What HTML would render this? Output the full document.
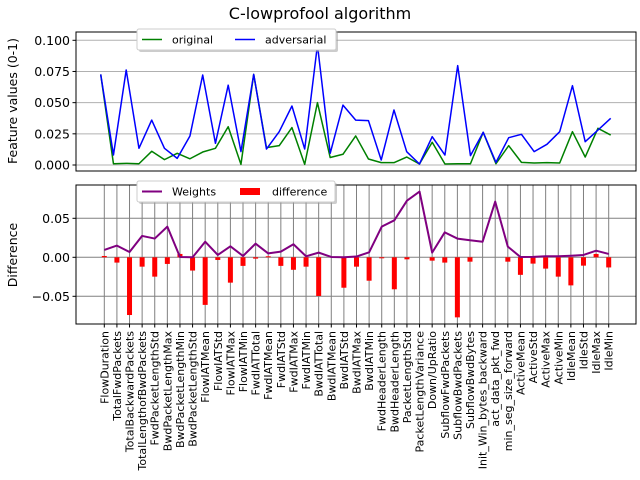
<!DOCTYPE html>
<html><head><meta charset="utf-8"><style>
body{margin:0;background:#fff;}
svg{display:block;font-family:"DejaVu Sans","Liberation Sans",sans-serif;}
</style></head><body>
<svg id="chart" width="640" height="480" viewBox="0 0 640 480">
<text x="320" y="19" text-anchor="middle" font-size="16">C-lowprofool algorithm</text>
<g id="topPanel"></g>
<g id="botPanel"></g>
</svg>
<script>
const categories = ["FlowDuration","TotalFwdPackets","TotalBackwardPackets","TotalLengthofBwdPackets","FwdPacketLengthStd","BwdPacketLengthMax","BwdPacketLengthMin","BwdPacketLengthStd","FlowIATMean","FlowIATStd","FlowIATMax","FlowIATMin","FwdIATTotal","FwdIATMean","FwdIATStd","FwdIATMax","FwdIATMin","BwdIATTotal","BwdIATMean","BwdIATStd","BwdIATMax","BwdIATMin","FwdHeaderLength","BwdHeaderLength","PacketLengthStd","PacketLengthVariance","Down/UpRatio","SubflowFwdPackets","SubflowBwdPackets","SubflowBwdBytes","Init_Win_bytes_backward","act_data_pkt_fwd","min_seg_size_forward","ActiveMean","ActiveStd","ActiveMax","ActiveMin","IdleMean","IdleStd","IdleMax","IdleMin"];
const original = [0.0727,0.001,0.0013,0.001,0.011,0.0043,0.0094,0.005,0.0104,0.0134,0.0307,0.0005,0.0727,0.0139,0.0155,0.030,0.0005,0.050,0.006,0.0086,0.0233,0.0048,0.0019,0.0019,0.0064,0.0008,0.0182,0.0008,0.001,0.001,0.0262,0.001,0.0155,0.0021,0.0016,0.0019,0.0016,0.0267,0.0064,0.0294,0.024];
const adversarial = [0.0727,0.008,0.0762,0.0134,0.036,0.0134,0.0053,0.0233,0.0722,0.0174,0.064,0.0107,0.0727,0.0128,0.0267,0.0473,0.0128,0.0963,0.0094,0.048,0.036,0.0356,0.004,0.0441,0.0107,0.0008,0.0227,0.008,0.0797,0.0075,0.0262,0.0021,0.0219,0.0246,0.0107,0.0166,0.0267,0.0636,0.0187,0.028,0.0374];
const weights = [0.0094,0.015,0.0068,0.0274,0.024,0.0393,0.0004,0,0.020,0.003,0.0141,0.0017,0.0175,0.005,0.0073,0.0167,0.0013,0.006,0.0004,0,0.001,0.0064,0.0393,0.0474,0.0726,0.0842,0.006,0.032,0.024,0.0218,0.020,0.0714,0.0137,0.0004,0.0005,0.0013,0.0013,0.002,0.003,0.0085,0.0043];
const difference = [0.0017,-0.0068,-0.074,-0.012,-0.0248,-0.0085,0.0043,-0.017,-0.061,-0.0034,-0.0325,-0.011,-0.0017,0.0013,-0.011,-0.016,-0.012,-0.0496,0,-0.039,-0.012,-0.030,-0.0013,-0.041,-0.0026,0,-0.0043,-0.0068,-0.077,-0.0056,0,0,-0.0056,-0.0225,-0.0081,-0.0145,-0.0248,-0.036,-0.0107,0.0043,-0.013];
const topTicks = [0,0.025,0.05,0.075,0.1];
const topTickLabels = ["0.000","0.025","0.050","0.075","0.100"];
const botTicks = [-0.05,0,0.05];
const botTickLabels = ["\u22120.05","0.00","0.05"];

const NS="http://www.w3.org/2000/svg";
function mk(tag,attrs,parent){const e=document.createElementNS(NS,tag);for(const k in attrs)e.setAttribute(k,attrs[k]);parent.appendChild(e);return e;}
const L=76,R=636;
const n=categories.length;
const xTop=i=>100.7+i*(510/(n-1));
const xBot=i=>104.3+i*(504.4/(n-1));
const yTop=v=>165-v*1247;
const yBot=v=>257.3-v*780;
const topG=document.getElementById('topPanel'), botG=document.getElementById('botPanel');

topTicks.forEach((t,k)=>{
  const g=mk('line',{x1:L,x2:R,y1:yTop(t),y2:yTop(t),stroke:'#b0b0b0','stroke-width':1},topG);
  
  
  mk('line',{x1:L-3.5,x2:L,y1:yTop(t),y2:yTop(t),stroke:'#000'},topG);
  const tx=mk('text',{x:L-6,y:yTop(t)+4.5,'text-anchor':'end','font-size':12.5},topG);
  tx.textContent=topTickLabels[k];
  
  
});
function poly(xs,ys,vals,color,name,parent,w){
  const p=mk('polyline',{points:vals.map((v,i)=>xs(i)+','+ys(v)).join(' '),fill:'none',stroke:color,'stroke-width':w||1.5,'stroke-linejoin':'round'},parent);
  
  
}
poly(xTop,yTop,original,'#008000','original-line',topG);
poly(xTop,yTop,adversarial,'#0000ff','adversarial-line',topG);
mk('rect',{x:L,y:32,width:R-L,height:139,fill:'none',stroke:'#000','stroke-width':1},topG);
const yt1=mk('text',{x:17,y:101,'text-anchor':'middle','font-size':12.5,transform:'rotate(-90 17 101)'},topG);
yt1.textContent='Feature values (0-1)';



const lg1=mk('g',{},topG);


mk('rect',{x:139,y:31,width:199,height:21,fill:'#999',opacity:0.5,rx:2},lg1);
mk('rect',{x:137,y:29,width:199,height:21,fill:'#fff',stroke:'#ccc',rx:2},lg1);
mk('line',{x1:142,x2:162,y1:39.5,y2:39.5,stroke:'#008000','stroke-width':1.5},lg1);
let t=mk('text',{x:172,y:43.5,'font-size':11},lg1);t.textContent='original';
mk('line',{x1:235,x2:255,y1:39.5,y2:39.5,stroke:'#0000ff','stroke-width':1.5},lg1);
t=mk('text',{x:265,y:43.5,'font-size':11},lg1);t.textContent='adversarial';

categories.forEach((c,i)=>{
  const g=mk('line',{x1:xBot(i),x2:xBot(i),y1:185,y2:324,stroke:'#808080','stroke-width':1},botG);
  
  
  mk('line',{x1:xBot(i),x2:xBot(i),y1:324,y2:327.5,stroke:'#000'},botG);
  const tx=mk('text',{x:0,y:0,'text-anchor':'end','font-size':11,transform:`translate(${xBot(i)+4},331) rotate(-90)`},botG);
  tx.textContent=c;
  
  
});
botTicks.forEach((v,k)=>{
  const g=mk('line',{x1:L,x2:R,y1:yBot(v),y2:yBot(v),stroke:'#808080','stroke-width':1},botG);
  
  
  mk('line',{x1:L-3.5,x2:L,y1:yBot(v),y2:yBot(v),stroke:'#000'},botG);
  const tx=mk('text',{x:L-6,y:yBot(v)+4.5,'text-anchor':'end','font-size':12.5},botG);
  tx.textContent=botTickLabels[k];
  
  
});
difference.forEach((v,i)=>{
  if(v===0)return;
  const y0=yBot(0),y1=yBot(v);
  const b=mk('rect',{x:xBot(i)-2.5,y:Math.min(y0,y1),width:5,height:Math.abs(y1-y0),fill:'#ff0000'},botG);
  
  
});
poly(xBot,yBot,weights,'#800080','weights-line',botG,2);
mk('rect',{x:L,y:185,width:R-L,height:139,fill:'none',stroke:'#000','stroke-width':1},botG);
const yt2=mk('text',{x:17,y:255,'text-anchor':'middle','font-size':12.5,transform:'rotate(-90 17 255)'},botG);
yt2.textContent='Difference';



const lg2=mk('g',{},botG);


mk('rect',{x:139,y:183,width:198,height:21,fill:'#999',opacity:0.5,rx:2},lg2);
mk('rect',{x:137,y:181,width:198,height:21,fill:'#fff',stroke:'#ccc',rx:2},lg2);
mk('line',{x1:142,x2:162,y1:191.5,y2:191.5,stroke:'#800080','stroke-width':2},lg2);
t=mk('text',{x:172,y:195.5,'font-size':11},lg2);t.textContent='Weights';
mk('rect',{x:240,y:188,width:20,height:7,fill:'#ff0000'},lg2);
t=mk('text',{x:272,y:195.5,'font-size':11},lg2);t.textContent='difference';
</script>
</body></html>
